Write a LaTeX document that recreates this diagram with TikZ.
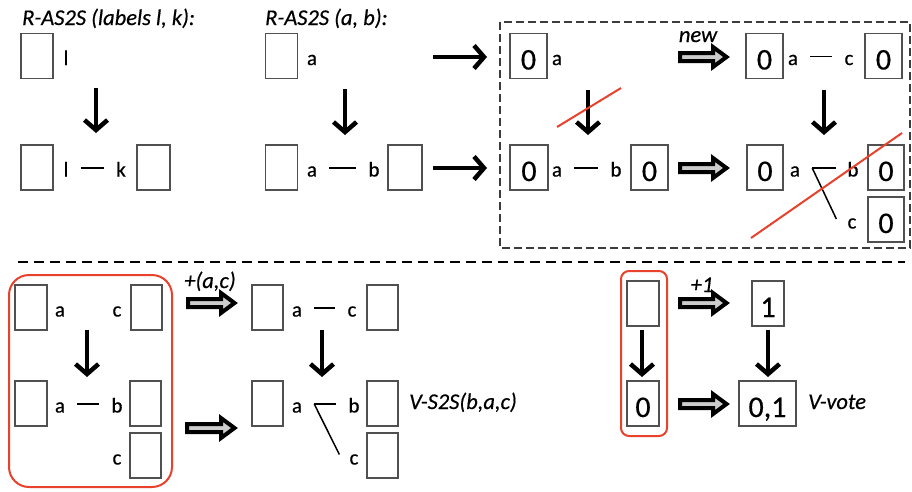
\documentclass[tikz,border=0pt]{standalone}
\usepackage{fontspec}
\setmainfont{Carlito}[FakeBold=0.5]
\usetikzlibrary{arrows.meta,calc}
\definecolor{redl}{HTML}{E8412C}
\definecolor{boxc}{HTML}{505050}
\definecolor{dashc}{HTML}{3C3C3C}
\begin{document}
\begin{tikzpicture}[x=1pt,y=-1pt,
  bx/.style={draw=boxc, line width=1.1pt, minimum width=32pt, minimum height=45pt, inner sep=0pt},
  nbx/.style={bx, font=\fontsize{30}{30}\selectfont, text height=27pt, text depth=0pt},
  lab/.style={font=\fontsize{21}{24}\selectfont, inner sep=0pt, anchor=base},
  ttl/.style={font=\fontsize{22.5}{26}\selectfont\itshape, inner sep=0pt, anchor=base west},
  itl/.style={font=\fontsize{22.5}{26}\selectfont\itshape, inner sep=0pt, anchor=base},
  sarr/.style={line width=4.5pt, -{Straight Barb[length=10pt,width=23pt]}},
  edge/.style={line width=1.5pt},
  redx/.style={draw=redl, line width=2pt},
  redbox/.style={draw=redl, line width=2pt},
  hollow/.style={draw=black, line width=4pt, fill=gray!40, line join=miter,
    to path={let \p1=(\tikztostart), \p2=(\tikztotarget) in
      (\x1+2pt,\y1+4pt) -- (\x2-17pt,\y1+4pt) -- (\x2-17pt,\y1+10pt) -- (\x2-3.5pt,\y1)
      -- (\x2-17pt,\y1-10pt) -- (\x2-17pt,\y1-4pt) -- (\x1+2pt,\y1-4pt) -- cycle}}
]
\useasboundingbox (0,0) rectangle (912,491);

% ---------- titles
\node[ttl] (t1) at (22,25) {R-AS2S (labels l, k):};
\node[ttl] (t2) at (265,25) {R-AS2S (a, b):};

% ---------- left top diagram
\node[bx] (b1) at (37,56) {};
\node[lab] (l1) at (66,65) {l};
\coordinate (v1s) at (96,88); \coordinate (v1e) at (96,133);
\draw[sarr] (v1s) -- (v1e);
\node[bx] (b2) at (37,167.5) {};
\node[lab] (l2) at (66,176.5) {l};
\node[lab] (k2) at (121,176.5) {k};
\node[bx, minimum width=33pt] (b3) at (153.5,167.5) {};
\draw[edge] ([shift={(12,-8.5)}]l2.base east) -- ([shift={(-12,-8.5)}]k2.base west);

% ---------- middle top diagram
\node[bx] (ba1) at (281.5,56) {};
\node[lab] (a1) at (312,65) {a};
\coordinate (v2s) at (345,89); \coordinate (v2e) at (345,135);
\draw[sarr] (v2s) -- (v2e);
\node[bx] (ba2) at (281.5,167.5) {};
\node[lab] (a2) at (312,176.5) {a};
\node[lab] (bb2) at (374,176.5) {b};
\node[bx, minimum width=34pt] (ba3) at (405,167.5) {};
\draw[edge] ([shift={(12,-8.5)}]a2.base east) -- ([shift={(-12,-8.5)}]bb2.base west);
\coordinate (r1s) at (433,57); \coordinate (r1e) at (487,57);
\coordinate (r2s) at (433,168); \coordinate (r2e) at (487,168);
\draw[sarr] (r1s) -- (r1e);
\draw[sarr] (r2s) -- (r2e);

% ---------- dashed frame
\draw[draw=dashc, line width=2.8pt, dash pattern=on 8pt off 4pt] (500,22) rectangle (910,248);

\node[nbx, minimum width=37pt] (z1) at (528.5,56) {0};
\node[lab] (za1) at (557,65) {a};
\node[itl] (new) at (698,42) {new};
\coordinate (h1s) at (678,57); \coordinate (h1e) at (730,57);
\draw[hollow] (h1s) to (h1e);
\node[nbx, minimum width=37pt] (z2) at (764.5,56) {0};
\node[lab] (za2) at (793,65) {a};
\node[lab] (zc2) at (849,65) {c};
\node[nbx, minimum width=37pt] (z3) at (883.5,56) {0};
\draw[edge] ([shift={(12,-8.5)}]za2.base east) -- ([shift={(-12,-8.5)}]zc2.base west);

\coordinate (v3s) at (588,90); \coordinate (v3e) at (588,135);
\draw[sarr] (v3s) -- (v3e);
\draw[redx] (557,127) -- (621,88);
\coordinate (v4s) at (824,90); \coordinate (v4e) at (824,135);
\draw[sarr] (v4s) -- (v4e);

\node[nbx, minimum width=38pt] (z4) at (529,167.5) {0};
\node[lab] (za4) at (557,176.5) {a};
\node[lab] (zb4) at (616,176.5) {b};
\node[nbx, minimum width=37pt] (z5) at (649.5,167.5) {0};
\draw[edge] ([shift={(12,-8.5)}]za4.base east) -- ([shift={(-12,-8.5)}]zb4.base west);
\coordinate (h2s) at (678,168); \coordinate (h2e) at (730,168);
\draw[hollow] (h2s) to (h2e);

\node[nbx, minimum width=36pt] (z6) at (765,167.5) {0};
\node[lab] (za6) at (795,176.5) {a};
\node[lab] (zb6) at (853,176.5) {b};
\node[nbx, minimum width=36pt] (z7) at (886,167.5) {0};
\node[lab] (zc6) at (852,228.5) {c};
\node[nbx, minimum width=36pt] (z8) at (886,219.5) {0};
\coordinate (f1) at ([shift={(12,-8.5)}]za6.base east);
\draw[edge] (f1) -- ([shift={(-11,-8.5)}]zb6.base west);
\draw[edge] (f1) -- ([shift={(-11,-9.5)}]zc6.base west);
\draw[redx] (751,238) -- (902,133);

% ---------- separator
\draw[line width=2.5pt, dash pattern=on 10pt off 6pt] (18,262) -- (905,262);

% ---------- bottom left
\draw[redbox, rounded corners=20pt] (9,275) rectangle (172,487);
\node[bx] (c1) at (31,307.5) {};
\node[lab] (ca1) at (60,316.5) {a};
\node[lab] (cc1) at (117,316.5) {c};
\node[bx, minimum width=31pt] (c2) at (146.5,307.5) {};
\coordinate (v5s) at (87,330); \coordinate (v5e) at (87,377);
\draw[sarr] (v5s) -- (v5e);
\node[bx] (c3) at (31,403.5) {};
\node[lab] (ca3) at (60,412.5) {a};
\node[lab] (cb3) at (117,412.5) {b};
\node[bx, minimum width=31pt] (c4) at (145.5,403.5) {};
\draw[edge] ([shift={(12,-8.5)}]ca3.base east) -- ([shift={(-12,-8.5)}]cb3.base west);
\node[lab] (cc3) at (117,464.5) {c};
\node[bx, minimum width=31pt] (c5) at (145.5,455.5) {};

\node[itl] (plac) at (210,288) {+(a,c)};
\coordinate (h3s) at (186,303); \coordinate (h3e) at (238,303);
\draw[hollow] (h3s) to (h3e);
\coordinate (h4s) at (185,428); \coordinate (h4e) at (238,428);
\draw[hollow] (h4s) to (h4e);

\node[bx, minimum width=31pt] (d1) at (267.5,307.5) {};
\node[lab] (da1) at (297,316.5) {a};
\node[lab] (dc1) at (352,316.5) {c};
\node[bx, minimum width=31pt] (d2) at (382.5,307.5) {};
\draw[edge] ([shift={(12,-8.5)}]da1.base east) -- ([shift={(-12,-8.5)}]dc1.base west);
\coordinate (v6s) at (322,330); \coordinate (v6e) at (322,377);
\draw[sarr] (v6s) -- (v6e);
\node[bx, minimum width=31pt] (d3) at (267.5,403.5) {};
\node[lab] (da3) at (297,412.5) {a};
\node[lab] (db3) at (354,412.5) {b};
\node[bx, minimum width=31pt] (d4) at (382.5,403.5) {};
\node[lab] (dc3) at (354,464.5) {c};
\node[bx, minimum width=31pt] (d5) at (382.5,455.5) {};
\coordinate (f2) at ([shift={(12,-8.5)}]da3.base east);
\draw[edge] (f2) -- ([shift={(-12,-8.5)}]db3.base west);
\draw[edge] (f2) -- ([shift={(-10,-10)}]dc3.base west);
\node[ttl] (vs2s) at (409,409) {V-S2S(b,a,c)};

% ---------- bottom right
\draw[redbox, rounded corners=8pt] (621,271) rectangle (667,436);
\node[bx] (e1) at (643,303.5) {};
\coordinate (v7s) at (642,330); \coordinate (v7e) at (642,377);
\draw[sarr] (v7s) -- (v7e);
\node[nbx] (e2) at (643,403.5) {0};
\node[itl] (p1) at (702,292) {+1};
\coordinate (h5s) at (678,303); \coordinate (h5e) at (730,303);
\draw[hollow] (h5s) to (h5e);
\node[nbx] (e3) at (768,303.5) {1};
\coordinate (v8s) at (768,330); \coordinate (v8e) at (768,377);
\draw[sarr] (v8s) -- (v8e);
\coordinate (h6s) at (678,404); \coordinate (h6e) at (730,404);
\draw[hollow] (h6s) to (h6e);
\node[nbx, minimum width=57pt] (e4) at (767.5,403.5) {0,1};
\node[ttl] (vvote) at (808,409) {V-vote};
\end{tikzpicture}
\end{document}
